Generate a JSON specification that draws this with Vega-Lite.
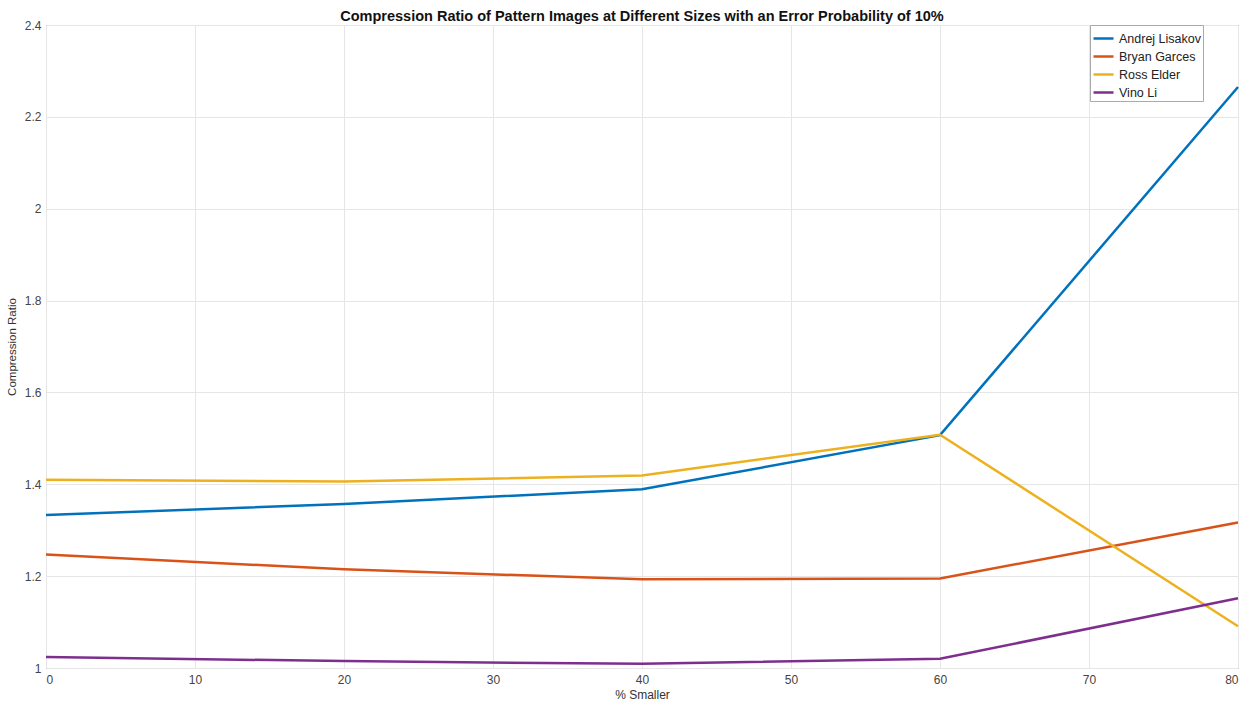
{
  "$schema": "https://vega.github.io/schema/vega-lite/v6.json",
  "width": 1192,
  "height": 643,
  "autosize": {"type": "none"},
  "padding": {"left": 46, "top": 25, "right": 16, "bottom": 43},
  "background": "white",
  "title": {
    "text": "Compression Ratio of Pattern Images at Different Sizes with an Error Probability of 10%",
    "font": "Liberation Sans",
    "fontSize": 14.5,
    "fontWeight": "bold",
    "color": "#111",
    "offset": 6,
    "dy": 11,
    "anchor": "middle"
  },
  "config": {
    "view": {"stroke": "#777", "strokeWidth": 1},
    "font": "Liberation Sans"
  },
  "data": {
    "values": [
      {"x": 0, "y": 1.333, "s": "Andrej Lisakov"},
      {"x": 20, "y": 1.357, "s": "Andrej Lisakov"},
      {"x": 40, "y": 1.389, "s": "Andrej Lisakov"},
      {"x": 60, "y": 1.507, "s": "Andrej Lisakov"},
      {"x": 80, "y": 2.265, "s": "Andrej Lisakov"},
      {"x": 0, "y": 1.247, "s": "Bryan Garces"},
      {"x": 20, "y": 1.215, "s": "Bryan Garces"},
      {"x": 40, "y": 1.193, "s": "Bryan Garces"},
      {"x": 60, "y": 1.195, "s": "Bryan Garces"},
      {"x": 80, "y": 1.317, "s": "Bryan Garces"},
      {"x": 0, "y": 1.410, "s": "Ross Elder"},
      {"x": 20, "y": 1.406, "s": "Ross Elder"},
      {"x": 40, "y": 1.419, "s": "Ross Elder"},
      {"x": 60, "y": 1.508, "s": "Ross Elder"},
      {"x": 80, "y": 1.091, "s": "Ross Elder"},
      {"x": 0, "y": 1.024, "s": "Vino Li"},
      {"x": 20, "y": 1.015, "s": "Vino Li"},
      {"x": 40, "y": 1.009, "s": "Vino Li"},
      {"x": 60, "y": 1.020, "s": "Vino Li"},
      {"x": 80, "y": 1.152, "s": "Vino Li"}
    ]
  },
  "mark": {"type": "line", "strokeWidth": 2.5},
  "encoding": {
    "x": {
      "field": "x",
      "type": "quantitative",
      "scale": {"domain": [0, 80], "nice": false},
      "axis": {
        "title": "% Smaller",
        "titleFont": "Liberation Sans",
        "titleFontSize": 12,
        "titleFontWeight": "normal",
        "titleColor": "#333",
        "titlePadding": 4,
        "values": [0, 10, 20, 30, 40, 50, 60, 70, 80],
        "labelFontSize": 12,
        "labelColor": "#444",
        "ticks": false,
        "labelPadding": 6,
        "domain": false,
        "grid": true,
        "gridColor": "#e6e6e6",
        "gridWidth": 1
      }
    },
    "y": {
      "field": "y",
      "type": "quantitative",
      "scale": {"domain": [1, 2.4], "nice": false, "zero": false},
      "axis": {
        "title": "Compression Ratio",
        "titleFont": "Liberation Sans",
        "titleFontSize": 11.5,
        "titleFontWeight": "normal",
        "titleColor": "#333",
        "titlePadding": 7,
        "values": [1, 1.2, 1.4, 1.6, 1.8, 2, 2.2, 2.4],
        "format": "~g",
        "labelFontSize": 12,
        "labelColor": "#444",
        "ticks": false,
        "labelPadding": 5,
        "domain": false,
        "grid": true,
        "gridColor": "#e6e6e6",
        "gridWidth": 1
      }
    },
    "color": {
      "field": "s",
      "type": "nominal",
      "scale": {
        "domain": ["Andrej Lisakov", "Bryan Garces", "Ross Elder", "Vino Li"],
        "range": ["#0072BD", "#D95319", "#EDB120", "#7E2F8E"]
      },
      "legend": {
        "title": null,
        "orient": "none",
        "legendX": 1044,
        "legendY": 0,
        "fillColor": "white",
        "strokeColor": "#aaa",
        "padding": 2,
        "symbolType": "stroke",
        "symbolStrokeWidth": 2.5,
        "symbolSize": 400,
        "labelFontSize": 12.5,
        "labelColor": "#222",
        "rowPadding": 0,
        "labelOffset": 4,
        "labelLimit": 200
      }
    }
  }
}
